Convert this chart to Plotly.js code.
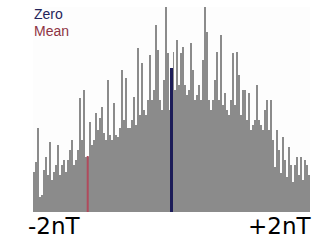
<!DOCTYPE html>
<html>
<head>
<meta charset="utf-8">
<script src="https://cdn.plot.ly/plotly-3.0.1.min.js"></script>
<style>html,body{margin:0;padding:0;background:#fff;}#chart{width:319px;height:242px;}</style>
</head>
<body>
<div id="chart"></div>
<script>
// Histogram counts (relative), 139 bins spanning -2 nT .. +2 nT
const counts = [
  40, 50, 84, 15, 17, 42, 55, 37, 70, 32,
  40, 47, 67, 37, 47, 52, 40, 52, 62, 72,
  47, 52, 62, 114, 72, 122, 55, 55, 90, 67,
  72, 99, 82, 94, 105, 79, 72, 132, 77, 72,
  109, 77, 75, 84, 142, 92, 134, 84, 84, 92,
  115, 87, 164, 97, 149, 102, 97, 112, 157, 112,
  122, 187, 162, 112, 102, 132, 205, 159, 102, 100,
  160, 122, 172, 127, 159, 165, 127, 117, 122, 169,
  142, 112, 117, 127, 112, 152, 205, 180, 112, 102,
  112, 132, 160, 112, 177, 107, 119, 102, 97, 112,
  159, 107, 160, 137, 97, 122, 122, 92, 119, 82,
  87, 92, 127, 92, 87, 82, 102, 112, 82, 112,
  72, 45, 82, 62, 39, 75, 52, 35, 65, 47,
  30, 47, 55, 37, 55, 32, 52, 47, 37
];
const rangeMin = -2;
const rangeMax = 2;
const zeroValue = 0;
const zeroCount = 144;
const meanValue = -1.21;
const meanCount = 56;
const legendLabels = ["Zero", "Mean"];
const tickLabels = ["-2nT", "+2nT"];

const binW = (rangeMax - rangeMin) / counts.length;
const xs = counts.map((_, i) => rangeMin + (i + 0.5) * binW);

const traces = [
  {type: 'bar', x: xs, y: counts, width: binW,
   marker: {color: '#8b8b8b', line: {width: 0}}, hoverinfo: 'skip'},
  {type: 'scatter', mode: 'lines', x: [zeroValue, zeroValue], y: [0, zeroCount],
   line: {color: '#1c1c58', width: 3}, hoverinfo: 'skip'},
  {type: 'scatter', mode: 'lines', x: [meanValue, meanValue], y: [0, meanCount],
   line: {color: '#b04a5c', width: 2}, hoverinfo: 'skip'}
];

const layout = {
  width: 319, height: 242,
  margin: {l: 33, r: 9, t: 7, b: 30},
  paper_bgcolor: '#ffffff', plot_bgcolor: '#fdfdfd',
  showlegend: false, bargap: 0,
  xaxis: {range: [rangeMin, rangeMax], showgrid: false, zeroline: false,
          showticklabels: false, ticks: '', showline: false, fixedrange: true},
  yaxis: {range: [0, 205], showgrid: false, zeroline: false,
          showticklabels: false, ticks: '', showline: false, fixedrange: true},
  annotations: [
    {xref: 'paper', yref: 'paper', x: 0, y: 1, xanchor: 'left', yanchor: 'top',
     text: legendLabels[0], showarrow: false, xshift: -1, yshift: 3,
     font: {family: 'Liberation Sans, Arial, sans-serif', size: 14, color: '#24245a'}},
    {xref: 'paper', yref: 'paper', x: 0, y: 1, xanchor: 'left', yanchor: 'top',
     text: legendLabels[1], showarrow: false, xshift: -1, yshift: -14,
     font: {family: 'Liberation Sans, Arial, sans-serif', size: 14, color: '#8e3444'}},
    {xref: 'paper', yref: 'paper', x: 0, y: 0, xanchor: 'left', yanchor: 'top',
     text: tickLabels[0], showarrow: false, xshift: -7, yshift: 1,
     font: {family: 'DejaVu Sans, sans-serif', size: 23, color: '#000000'}},
    {xref: 'paper', yref: 'paper', x: 1, y: 0, xanchor: 'right', yanchor: 'top',
     text: tickLabels[1], showarrow: false, xshift: 3, yshift: 1,
     font: {family: 'DejaVu Sans, sans-serif', size: 23, color: '#000000'}}
  ]
};

Plotly.newPlot('chart', traces, layout, {staticPlot: true, displayModeBar: false});
</script>
</body>
</html>
